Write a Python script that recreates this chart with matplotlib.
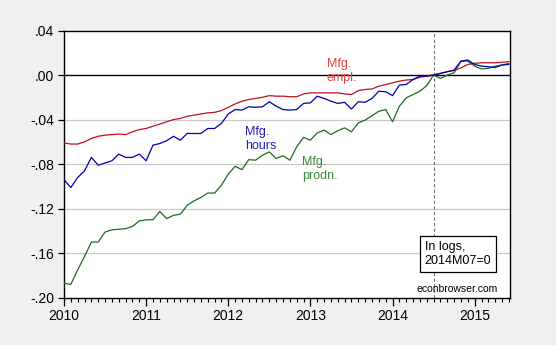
import numpy as np
import matplotlib
matplotlib.use("Agg")
import matplotlib.pyplot as plt
from matplotlib.ticker import FixedLocator, FuncFormatter

# monthly, 2010M01 .. 2015M06, logs normalised to 2014M07 = 0
start_year = 2010
empl = [-0.061, -0.062, -0.062, -0.060, -0.057, -0.055, -0.054, -0.0535, -0.053, -0.0535,
        -0.051, -0.049, -0.048, -0.046, -0.044, -0.042, -0.040, -0.039, -0.037, -0.036,
        -0.035, -0.034, -0.0335, -0.032, -0.029, -0.026, -0.0235, -0.022, -0.021, -0.020,
        -0.0185, -0.019, -0.019, -0.0195, -0.0195, -0.017, -0.016, -0.016, -0.016, -0.016,
        -0.016, -0.017, -0.0175, -0.014, -0.013, -0.0125, -0.010, -0.0085, -0.007, -0.0055,
        -0.0045, -0.004, -0.002, -0.001, 0.000, 0.0015, 0.003, 0.004, 0.0065, 0.0095,
        0.0105, 0.011, 0.011, 0.011, 0.0115, 0.012]
hours = [-0.094, -0.101, -0.092, -0.086, -0.074, -0.081, -0.079, -0.077, -0.071, -0.074,
         -0.074, -0.071, -0.077, -0.063, -0.0615, -0.059, -0.055, -0.0585, -0.0525, -0.0525,
         -0.0525, -0.048, -0.048, -0.0435, -0.035, -0.031, -0.0315, -0.0285, -0.029, -0.0285,
         -0.024, -0.028, -0.031, -0.0315, -0.031, -0.0255, -0.025, -0.019, -0.021, -0.0235,
         -0.0255, -0.0245, -0.0305, -0.024, -0.0245, -0.021, -0.0145, -0.015, -0.0185, -0.009,
         -0.0085, -0.004, -0.001, -0.001, 0.000, 0.0015, 0.003, 0.0045, 0.0125, 0.0135,
         0.0095, 0.008, 0.0075, 0.0068, 0.009, 0.0095]
prodn = [-0.187, -0.188, -0.175, -0.163, -0.150, -0.150, -0.141, -0.139, -0.1385, -0.138,
         -0.136, -0.131, -0.130, -0.130, -0.1225, -0.129, -0.126, -0.125, -0.117, -0.113,
         -0.110, -0.106, -0.106, -0.099, -0.089, -0.082, -0.085, -0.076, -0.0765, -0.072,
         -0.069, -0.075, -0.0725, -0.0765, -0.0645, -0.056, -0.0585, -0.052, -0.0495, -0.0535,
         -0.050, -0.0475, -0.051, -0.043, -0.0405, -0.0365, -0.0325, -0.031, -0.042, -0.028,
         -0.0205, -0.0175, -0.0145, -0.0095, 0.000, -0.003, 0.000, 0.002, 0.0125, 0.0125,
         0.008, 0.0055, 0.006, 0.008, 0.009, 0.0105]
base_date = 2014.5  # 2014M07
year_ticks = [2010, 2011, 2012, 2013, 2014, 2015]
y_ticks = [0.04, 0.00, -0.04, -0.08, -0.12, -0.16, -0.20]

t = start_year + np.arange(len(empl)) / 12.0

plt.rcParams['font.family'] = ['Liberation Sans', 'DejaVu Sans']

fig = plt.figure(figsize=(5.56, 3.45), dpi=100, facecolor='#f0f0f0')
ax = fig.add_axes([64 / 556, 1 - 297.7 / 345, (509.7 - 64) / 556, (297.7 - 30.5) / 345])
ax.set_facecolor('white')

ax.set_xlim(t[0], t[-1] + 0.01)
ax.set_ylim(-0.20, 0.04)

for v in y_ticks[2:-1]:
    ax.axhline(v, color='#c8c8c8', lw=0.9, zorder=1)
ax.axhline(0, color='black', lw=1.0, zorder=2)
ax.axvline(base_date, color='#707070', lw=0.8, ls=(0, (3, 2)), zorder=2)

ax.plot(t, empl, color='#c01020', lw=0.9, zorder=4)
ax.plot(t, hours, color='#0000a8', lw=0.9, zorder=4)
ax.plot(t, prodn, color='#1e6a1e', lw=0.9, zorder=3)

ax.text(2013.2, 0.0155, 'Mfg.\nempl.', color='#e04040', fontsize=9, linespacing=1.3, va='top')
ax.text(2012.2, -0.0455, 'Mfg.\nhours', color='#2020c0', fontsize=9, linespacing=1.3, va='top')
ax.text(2012.9, -0.0725, 'Mfg.\nprodn.', color='#3a8a3a', fontsize=9, linespacing=1.3, va='top')

ax.text(2014.39, -0.1495, 'In logs,\n2014M07=0', fontsize=9, va='top', linespacing=1.2,
        bbox=dict(facecolor='white', edgecolor='black', lw=0.9, boxstyle='square,pad=0.4'))
ax.text(2014.29, -0.1925, 'econbrowser.com', fontsize=7.5, va='center')

ax.yaxis.set_major_locator(FixedLocator(y_ticks))
ax.yaxis.set_major_formatter(FuncFormatter(
    lambda v, p: ('-' if v < -1e-9 else '') + ('%.2f' % abs(v))[1:]))
ax.xaxis.set_major_locator(FixedLocator(year_ticks))
ax.xaxis.set_minor_locator(FixedLocator(t))
ax.xaxis.set_major_formatter(FuncFormatter(lambda v, p: '%d' % v))

ax.tick_params(axis='y', direction='out', length=4, width=0.9, labelsize=10, pad=3)
ax.tick_params(axis='x', which='major', direction='out', length=6, width=0.9, labelsize=10, pad=2)
ax.tick_params(axis='x', which='minor', direction='out', length=3, width=0.8)
for s in ax.spines.values():
    s.set_linewidth(1.0)

fig.savefig('out.png', dpi=100, facecolor=fig.get_facecolor())
